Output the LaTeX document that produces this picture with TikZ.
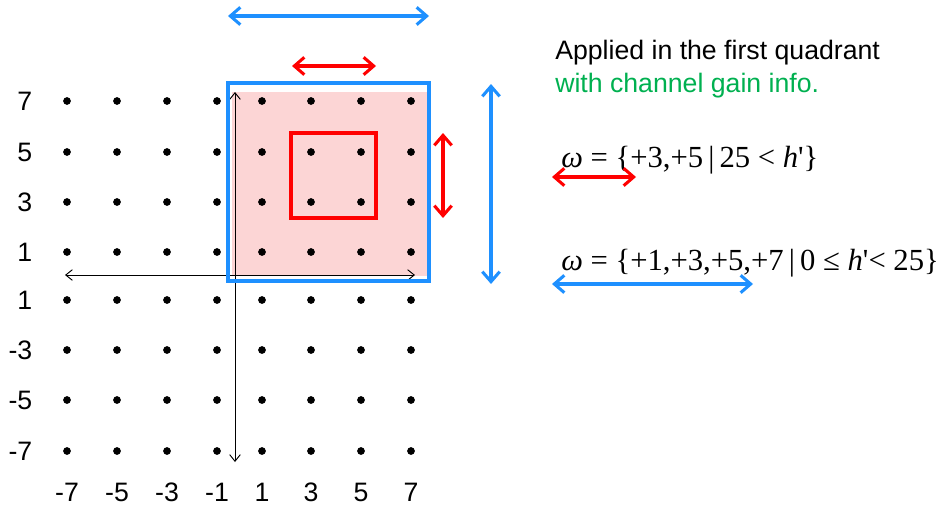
\documentclass[tikz,border=0pt]{standalone}
\usepackage{fontspec}
\setmainfont{Liberation Sans}
\newfontfamily\timesfont{Liberation Serif}
\usetikzlibrary{arrows.meta}

\definecolor{spanblue}{RGB}{30,144,255}
\definecolor{spanred}{RGB}{255,0,0}
\definecolor{quadpink}{RGB}{252,213,213}
\definecolor{infogreen}{RGB}{0,176,80}

\tikzset{
  dot/.style={circle, fill=black, inner sep=0pt, minimum size=5.8pt},
  numlbl/.style={font=\fontsize{20}{24}\selectfont},
  note/.style={font=\fontsize{20}{24}\selectfont, anchor=west, inner sep=0pt},
  formula/.style={font=\timesfont\fontsize{23}{27}\selectfont, anchor=west, inner sep=0pt},
  span/.style={line width=2.3pt,
    {Straight Barb[length=7.5pt,width=13pt]}-{Straight Barb[length=7.5pt,width=13pt]}},
  axis/.style={line width=0.7pt,
    {Straight Barb[length=5pt,width=8pt]}-{Straight Barb[length=5pt,width=8pt]}}
}

\begin{document}
\begin{tikzpicture}[x=0.75pt, y=-0.75pt]
  \useasboundingbox (0,0) rectangle (942,507);

  % first quadrant shading
  \fill[quadpink] (232,92) rectangle (427,276);

  % constellation points and labels
  \foreach \x/\t [count=\i] in {67/-7,117/-5,167/-3,217/-1,262/1,311/3,361/5,411/7} {
    \node[numlbl] (c\i) at (\x,492) {\t};
    \foreach \y [count=\j] in {101,152,202,252,300,350,400,451}
      \node[dot] (d\i\j) at (\x,\y) {};
  }
  \foreach \y/\t [count=\j] in {101/7,152/5,202/3,252/1,300/1,350/-3,400/-5,451/-7}
    \node[numlbl, anchor=east] (r\j) at (37,\y) {\t};

  % axes
  \coordinate (xl) at (65,275);
  \coordinate (xr) at (415,275);
  \coordinate (yt) at (235,92);
  \coordinate (yb) at (235,462);
  \draw[axis] (xl) -- (xr);
  \draw[axis] (yt) -- (yb);

  % regions
  \draw[spanblue, line width=2.5pt] (228,83) rectangle (429,281);
  \draw[spanred, line width=2.5pt] (291,133) rectangle (376,218);

  % span arrows
  \coordinate (bt1) at (228,16);  \coordinate (bt2) at (429,16);
  \coordinate (rt1) at (292,66);  \coordinate (rt2) at (376,66);
  \coordinate (bv1) at (491,84);  \coordinate (bv2) at (491,284);
  \coordinate (rv1) at (443,133); \coordinate (rv2) at (443,218);
  \draw[span, spanblue] (bt1) -- (bt2);
  \draw[span, spanred] (rt1) -- (rt2);
  \draw[span, spanblue] (bv1) -- (bv2);
  \draw[span, spanred] (rv1) -- (rv2);

  % notes
  \node[note] (n1) at (555,53) {Applied in the first quadrant};
  \node[note, text=infogreen] (n2) at (555,86) {with channel gain info.};

  \node[formula] (f1) at (561,160) {\itshape ω\/\upshape{} = \{+3,+5\,|\,25 < \itshape h\/\upshape'\}};
  \coordinate (fr1) at (552,177); \coordinate (fr2) at (636,177);
  \draw[span, spanred] (fr1) -- (fr2);

  \node[formula] (f2) at (561,263) {\itshape ω\/\upshape{} = \{+1,+3,+5,+7\,|\,0 ≤ \itshape h\/\upshape'< 25\}};
  \coordinate (fb1) at (552,284); \coordinate (fb2) at (753,284);
  \draw[span, spanblue] (fb1) -- (fb2);
\end{tikzpicture}
\end{document}
